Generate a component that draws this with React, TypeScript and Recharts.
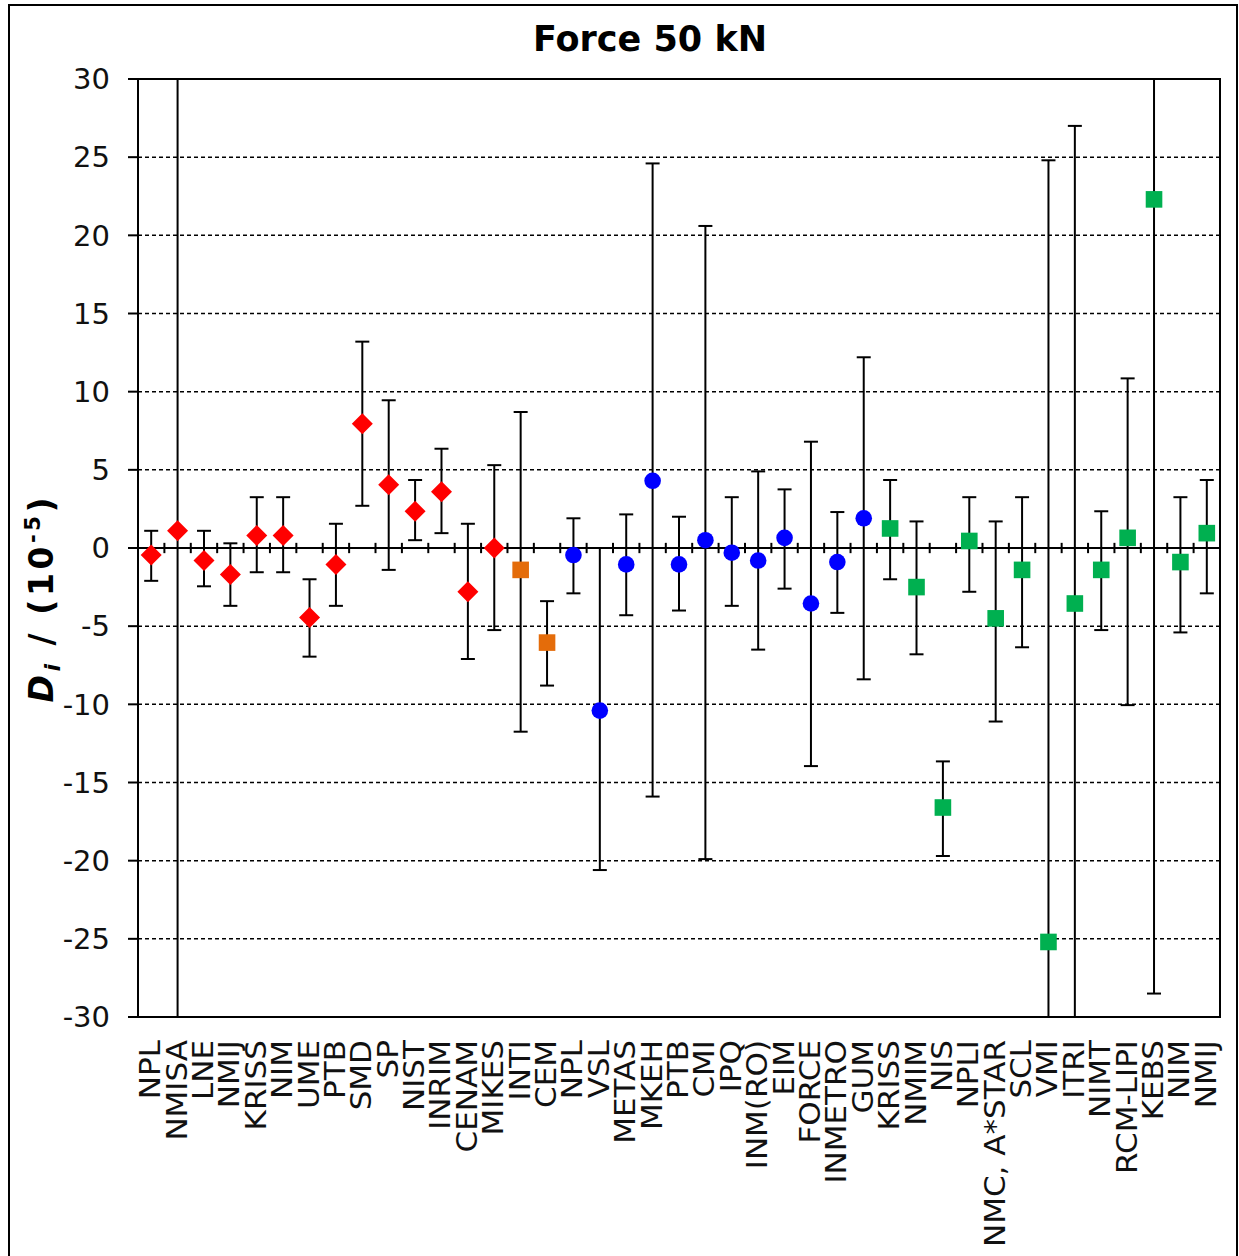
import React from 'react'
import {
  ComposedChart,
  Scatter,
  ErrorBar,
  XAxis,
  YAxis,
  CartesianGrid,
  ReferenceLine,
  ReferenceArea,
} from 'recharts'

// participants, in the order they appear on the axis
const labs = [
  'NPL', 'NMISA', 'LNE', 'NMIJ', 'KRISS', 'NIM', 'UME', 'PTB', 'SMD', 'SP', 'NIST', 'INRIM', 'CENAM', 'MIKES',
  'INTI', 'CEM',
  'NPL', 'VSL', 'METAS', 'MKEH', 'PTB', 'CMI', 'IPQ', 'INM(RO)', 'EIM', 'FORCE', 'INMETRO', 'GUM',
  'KRISS', 'NMIM', 'NIS', 'NPLI', 'NMC, A*STAR', 'SCL', 'VMI', 'ITRI', 'NIMT', 'RCM-LIPI', 'KEBS', 'NIM', 'NMIJ',
]

// r = red diamonds, o = orange squares, b = blue circles, g = green squares
const grp = [
  'r', 'r', 'r', 'r', 'r', 'r', 'r', 'r', 'r', 'r', 'r', 'r', 'r', 'r',
  'o', 'o',
  'b', 'b', 'b', 'b', 'b', 'b', 'b', 'b', 'b', 'b', 'b', 'b',
  'g', 'g', 'g', 'g', 'g', 'g', 'g', 'g', 'g', 'g', 'g', 'g', 'g',
]

// Di in 1e-5
const di = [
  -0.45, 1.1, -0.8, -1.7, 0.8, 0.8, -4.45, -1.05, 7.95, 4.05, 2.35, 3.6, -2.8, 0.0,
  -1.4, -6.05,
  -0.45, -10.4, -1.05, 4.3, -1.05, 0.5, -0.3, -0.8, 0.65, -3.55, -0.9, 1.9,
  1.25, -2.5, -16.6, 0.45, -4.5, -1.4, -25.2, -3.55, -1.4, 0.65, 22.3, -0.9, 0.95,
]

// upper / lower ends of the uncertainty bars (±35 = off the scale)
const upper = [
  1.1, 35, 1.1, 0.3, 3.25, 3.25, -2.0, 1.55, 13.2, 9.45, 4.35, 6.35, 1.55, 5.3,
  8.7, -3.4,
  1.9, 0.0, 2.15, 24.6, 2.0, 20.6, 3.25, 4.9, 3.75, 6.8, 2.3, 12.2,
  4.35, 1.7, -13.65, 3.25, 1.7, 3.25, 24.8, 27.0, 2.35, 10.85, 35, 3.25, 4.35,
]
const lower = [
  -2.1, -35, -2.45, -3.7, -1.55, -1.55, -6.95, -3.7, 2.7, -1.4, 0.5, 0.95, -7.1, -5.25,
  -11.75, -8.8,
  -2.9, -20.6, -4.3, -15.9, -4.0, -19.9, -3.7, -6.5, -2.6, -13.95, -4.15, -8.4,
  -2.0, -6.8, -19.7, -2.8, -11.1, -6.35, -35, -35, -5.25, -10.05, -28.5, -5.4, -2.9,
]

const yTicks = [-30, -25, -20, -15, -10, -5, 0, 5, 10, 15, 20, 25, 30]

// bars that run off the scale stop at the plot frame
const clip = (v: number) => Math.max(-30, Math.min(30, v))
const pts = di.map((v, i) => ({ x: i + 0.5, y: v, err: [v - clip(lower[i]), clip(upper[i]) - v], g: grp[i] }))
const sel = (g: string) => pts.filter((p) => p.g === g)
const xTicks = labs.map((_, i) => i + 0.5)
const bounds = labs.slice(1).map((_, i) => i + 1)

const FONT = '"DejaVu Sans", Verdana, sans-serif'

const Diamond = ({ cx, cy }: any) => (
  <path d={`M${cx},${cy - 10.5}L${cx + 10.5},${cy}L${cx},${cy + 10.5}L${cx - 10.5},${cy}Z`} fill="#ff0000" />
)
const Square = (color: string) => ({ cx, cy }: any) => (
  <rect x={cx - 8.3} y={cy - 8.3} width={16.6} height={16.6} fill={color} />
)
const Dot = ({ cx, cy }: any) => <circle cx={cx} cy={cy} r={8.3} fill="#0000ff" />

const XTick = ({ x, y, payload }: any) => (
  <text
    transform={`translate(${x + 9},${y + 23}) rotate(-90) scale(1.07,1)`}
    textAnchor="end"
    fontSize={29}
    fontFamily={FONT}
    fill="#111"
  >
    {labs[Math.round(payload.value - 0.5)]}
  </text>
)

const YLabel = () => (
  <text
    transform="translate(53,600) rotate(-90)"
    textAnchor="middle"
    textLength={205}
    lengthAdjust="spacing"
    fontFamily={FONT}
    fontWeight="bold"
    fontSize={33}
    fill="#000"
  >
    <tspan fontStyle="italic">D</tspan>
    <tspan fontStyle="italic" fontSize={22} dy={7}>i</tspan>
    <tspan dy={-7}> / (10</tspan>
    <tspan fontSize={21} dy={-13}>-5</tspan>
    <tspan dy={13}>)</tspan>
  </text>
)

export default function App() {
  return (
    <div style={{ position: 'absolute', left: 0, top: 0, width: 1239, height: 1256, background: '#fff' }}>
      <div
        style={{
          position: 'absolute', left: 8, top: 4, width: 1230, height: 1252, boxSizing: 'border-box',
          border: '2px solid #000', borderBottom: 'none', pointerEvents: 'none',
        }}
      />
      <div
        style={{
          position: 'absolute', left: 350, top: 22, width: 600, textAlign: 'center', lineHeight: 1,
          fontFamily: FONT, fontWeight: 'bold', fontSize: 35, color: '#000',
        }}
      >
        Force 50 kN
      </div>
      <ComposedChart width={1239} height={1256} margin={{ top: 79, right: 19, bottom: 0, left: 0 }}>
        <CartesianGrid vertical={false} stroke="#000" strokeWidth={1.5} strokeDasharray="4 3" />
        <XAxis
          type="number"
          dataKey="x"
          domain={[0, 41]}
          ticks={xTicks}
          interval={0}
          height={239}
          tickLine={false}
          tickSize={0}
          tickMargin={0}
          axisLine={{ stroke: '#000', strokeWidth: 2 }}
          tick={<XTick />}
        />
        <YAxis
          type="number"
          domain={[-30, 30]}
          ticks={yTicks}
          allowDataOverflow
          width={138}
          tickSize={10}
          tickMargin={18}
          axisLine={{ stroke: '#000', strokeWidth: 2 }}
          tickLine={{ stroke: '#000', strokeWidth: 2 }}
          tick={{ fontSize: 29, fontFamily: FONT, fill: '#111' }}
          label={YLabel}
        />
        <ReferenceArea x1={0} x2={41} y1={-30} y2={30} fill="none" stroke="#000" strokeWidth={2} />
        <ReferenceLine y={0} stroke="#000" strokeWidth={2} />
        {bounds.map((b) => (
          <ReferenceLine key={b} segment={[{ x: b, y: -0.33 }, { x: b, y: 0.33 }]} stroke="#000" strokeWidth={2} />
        ))}
        <Scatter data={sel('r')} dataKey="y" shape={Diamond} isAnimationActive={false}>
          <ErrorBar dataKey="err" direction="y" width={7} stroke="#000" strokeWidth={2} />
        </Scatter>
        <Scatter data={sel('o')} dataKey="y" shape={Square('#e46c0a')} isAnimationActive={false}>
          <ErrorBar dataKey="err" direction="y" width={7} stroke="#000" strokeWidth={2} />
        </Scatter>
        <Scatter data={sel('b')} dataKey="y" shape={Dot} isAnimationActive={false}>
          <ErrorBar dataKey="err" direction="y" width={7} stroke="#000" strokeWidth={2} />
        </Scatter>
        <Scatter data={sel('g')} dataKey="y" shape={Square('#00b050')} isAnimationActive={false}>
          <ErrorBar dataKey="err" direction="y" width={7} stroke="#000" strokeWidth={2} />
        </Scatter>
      </ComposedChart>
    </div>
  )
}
